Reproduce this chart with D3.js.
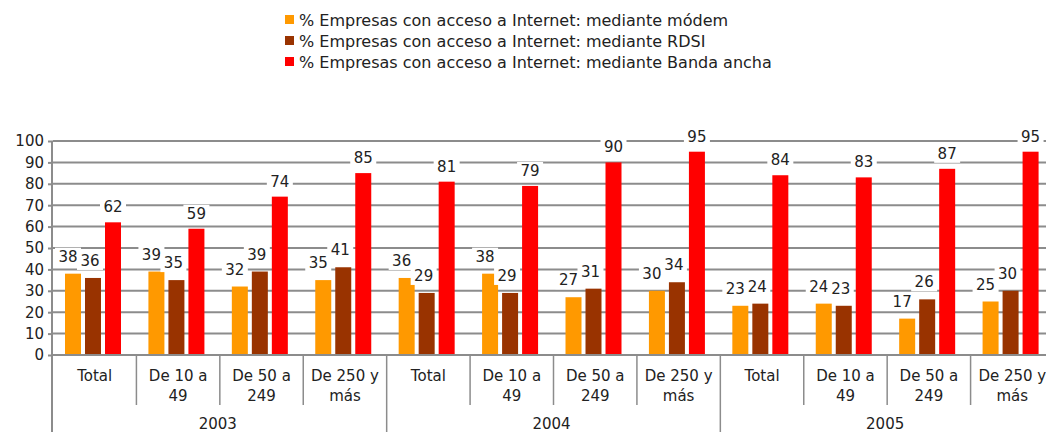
<!DOCTYPE html>
<html>
<head>
<meta charset="utf-8">
<script src="https://cdn.jsdelivr.net/npm/d3@7"></script>
<style>
  body { margin: 0; background: #fff; }
  text { font-family: "DejaVu Sans", Verdana, sans-serif; font-size: 15px; fill: #222; }
</style>
</head>
<body>
<div id="chart"></div>
<script>
var width = 1046;
var height = 432;

// data
var years = ["2003", "2004", "2005"];
var sizes = ["Total", "De 10 a|49", "De 50 a|249", "De 250 y|más"];
var seriesNames = [
    "% Empresas con acceso a Internet: mediante módem",
    "% Empresas con acceso a Internet: mediante RDSI",
    "% Empresas con acceso a Internet: mediante Banda ancha"
];
var modem = [38, 39, 32, 35, 36, 38, 27, 30, 23, 24, 17, 25];
var rdsi = [36, 35, 39, 41, 29, 29, 31, 34, 24, 23, 26, 30];
var banda = [62, 59, 74, 85, 81, 79, 90, 95, 84, 83, 87, 95];
var yTicks = [0, 10, 20, 30, 40, 50, 60, 70, 80, 90, 100];

var colors = ["#FF9900", "#993300", "#FF0000"];
// labels of the first two series sit a little to the left, as in the original
var labelShift = [-5, -3, 0];
var labelRaise = [12, 12, 10];

var cats = [];
years.forEach(function (y) {
    sizes.forEach(function (s) {
        cats.push({ key: y + "|" + s, year: y, size: s });
    });
});
var values = [modem, rdsi, banda];

var plotLeft = 53, plotTop = 141, plotBottom = 355, plotRight = 1054;

var svg = d3.select("#chart")
    .append("svg")
    .attr("width", width)
    .attr("height", height);

var xScale = d3.scaleBand().range([plotLeft, plotRight]).domain(cats.map(function (d) { return d.key; }));
var inner = d3.scaleBand().domain([0, 1, 2]).range([10, 70]).paddingInner(0.2).paddingOuter(0.1);
var yScale = d3.scaleLinear().domain([0, 100]).range([plotBottom, plotTop]);

// gridlines
svg.append("g")
    .selectAll("line")
    .data(yTicks.slice(1))
    .enter()
    .append("line")
    .attr("x1", plotLeft)
    .attr("x2", width)
    .attr("y1", function (d) { return yScale(d); })
    .attr("y2", function (d) { return yScale(d); })
    .attr("stroke", "#8c8c8c")
    .attr("stroke-width", 2);

// y axis
var yAxis = d3.axisLeft(yScale).tickValues(yTicks).tickSize(5).tickPadding(4);
var yg = svg.append("g")
    .attr("transform", "translate(" + plotLeft + ",0)")
    .call(yAxis);
yg.select(".domain").remove();
yg.selectAll(".tick line").attr("stroke", "#8c8c8c").attr("stroke-width", 2);
yg.selectAll(".tick text").style("font-size", "15px").style("font-family", "DejaVu Sans, Verdana, sans-serif").attr("fill", "#222");

// left axis line, running down through the category area
svg.append("line")
    .attr("x1", plotLeft - 1).attr("x2", plotLeft - 1)
    .attr("y1", plotTop).attr("y2", height)
    .attr("stroke", "#8c8c8c").attr("stroke-width", 2);

// bars
var series = svg.append("g");
values.forEach(function (vals, si) {
    series.append("g")
        .selectAll("rect")
        .data(cats)
        .enter()
        .append("rect")
        .attr("x", function (d) { return xScale(d.key) + inner(si); })
        .attr("y", function (d, i) { return yScale(vals[i]); })
        .attr("width", inner.bandwidth())
        .attr("height", function (d, i) { return plotBottom - yScale(vals[i]); })
        .attr("fill", colors[si]);
});

// value labels with white boxes
var labels = svg.append("g");
values.forEach(function (vals, si) {
    cats.forEach(function (d, i) {
        var cx = xScale(d.key) + inner(si) + inner.bandwidth() / 2 + labelShift[si];
        var by = yScale(vals[i]) - labelRaise[si];
        labels.append("rect")
            .attr("x", cx - 13)
            .attr("y", by - 14)
            .attr("width", 26)
            .attr("height", 18)
            .attr("fill", "#fff");
        labels.append("text")
            .attr("x", cx)
            .attr("y", by)
            .attr("text-anchor", "middle")
            .text(vals[i]);
    });
});

// x axis line
svg.append("line")
    .attr("x1", plotLeft - 1).attr("x2", width)
    .attr("y1", plotBottom).attr("y2", plotBottom)
    .attr("stroke", "#8c8c8c").attr("stroke-width", 2);

// category separators
var xg = svg.append("g");
cats.forEach(function (d, i) {
    if (i > 0) {
        var yearEdge = i % sizes.length === 0;
        xg.append("line")
            .attr("x1", xScale(d.key)).attr("x2", xScale(d.key))
            .attr("y1", plotBottom).attr("y2", yearEdge ? height : 405)
            .attr("stroke", "#8c8c8c").attr("stroke-width", 1.5);
    }
    var lines = d.size.split("|");
    var t = xg.append("text")
        .attr("x", xScale(d.key) + xScale.bandwidth() / 2)
        .attr("y", 381)
        .attr("text-anchor", "middle");
    lines.forEach(function (l, k) {
        t.append("tspan")
            .attr("x", xScale(d.key) + xScale.bandwidth() / 2)
            .attr("dy", k === 0 ? 0 : 20)
            .text(l);
    });
});

// year labels
years.forEach(function (y, yi) {
    var first = xScale(y + "|" + sizes[0]);
    var last = xScale(y + "|" + sizes[sizes.length - 1]) + xScale.bandwidth();
    xg.append("text")
        .attr("x", (first + last) / 2 - 2)
        .attr("y", 429)
        .attr("text-anchor", "middle")
        .text(y);
});

// legend
var legend = svg.append("g").attr("transform", "translate(285, 0)");
seriesNames.forEach(function (name, i) {
    legend.append("rect")
        .attr("x", 0)
        .attr("y", 15 + i * 21)
        .attr("width", 9)
        .attr("height", 9)
        .attr("fill", colors[i]);
    legend.append("text")
        .attr("x", 14)
        .attr("y", 26 + i * 21)
        .style("font-size", "16px")
        .text(name);
});
</script>
</body>
</html>
